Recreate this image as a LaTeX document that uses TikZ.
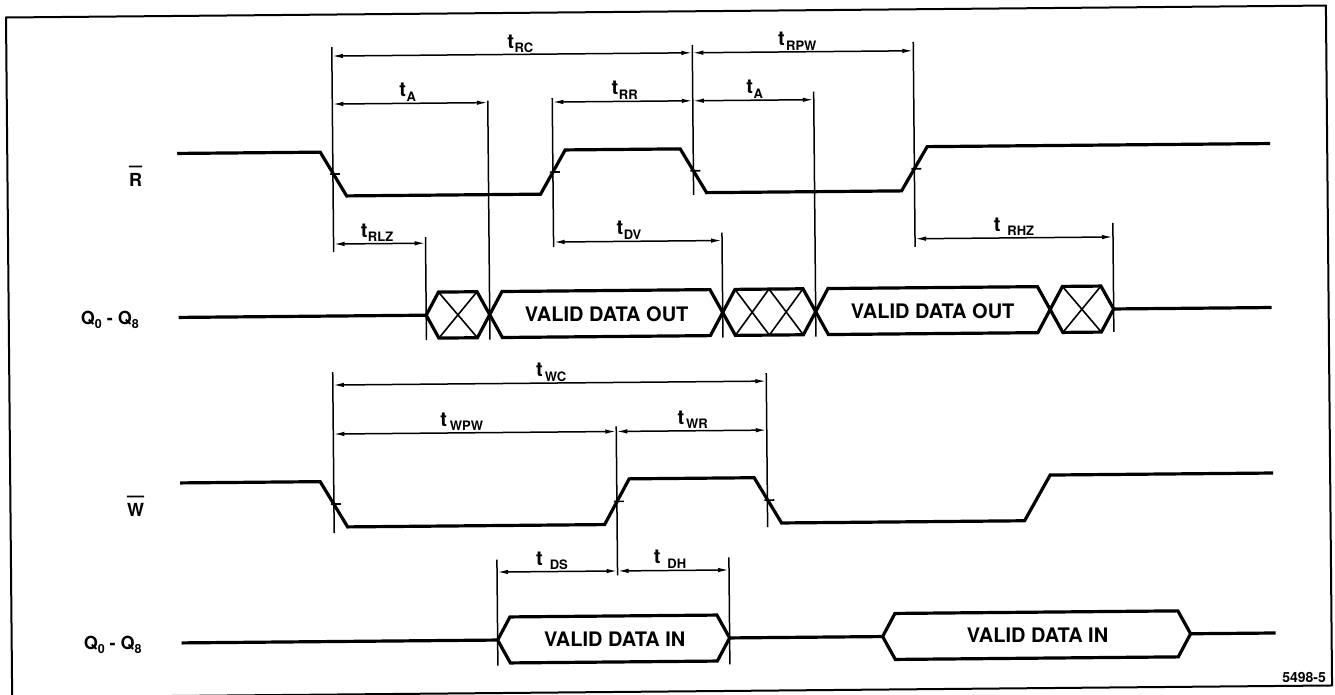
\documentclass[tikz,border=0pt]{standalone}
\usepackage{fontspec}
\setmainfont{TeX Gyre Heros}
\usetikzlibrary{arrows.meta}
\newcommand\tlab[2][0.5pt]{t\kern#1\raisebox{-4.5pt}{\fontsize{13}{13}\selectfont #2}}
\newcommand\qsub[1]{\raisebox{-4pt}{\fontsize{12.5}{12.5}\selectfont #1}}
% hexagonal bus box: left x, right x, centre y
\newcommand\hexbox[3]{\draw[sig] (#1,#3) -- (#1+12.5,#3-23) -- (#2-12.5,#3-23) -- (#2,#3) -- (#2-12.5,#3+23) -- (#1+12.5,#3+23) -- cycle;}
\begin{document}
\begin{tikzpicture}[x=1pt,y=-1pt,
  sig/.style={line width=3.2pt, line join=miter},
  ext/.style={line width=1.5pt},
  dim/.style={line width=1.5pt, {Latex[length=11pt,width=4.5pt]}-{Latex[length=11pt,width=4.5pt]}},
  crossln/.style={line width=1.6pt},
  tickln/.style={line width=1.6pt},
  tl/.style={font=\bfseries\fontsize{20}{20}\selectfont, inner sep=0pt, anchor=base},
  boxtxt/.style={font=\bfseries\fontsize{20}{20}\selectfont, inner sep=0pt},
  rowlab/.style={font=\bfseries\fontsize{18}{18}\selectfont, inner sep=0pt, anchor=base},
  barln/.style={line width=1.6pt}]
\useasboundingbox (0,0) rectangle (1335,695);
\begin{scope}[rotate around={0.52:(668,348)}]
% frame
\draw[line width=2pt] (9,11.5) rectangle (1329,691.5);

% ---------- R bar signal ----------
\draw[sig] (179,149) -- (322,149) -- (348,193) -- (542,193) -- (567,149) -- (682,149) -- (708,193) -- (903,193) -- (929,149) -- (1272,149);
\foreach \x in {334.5,554.5,695,916} \draw[tickln] (\x-3,171) -- (\x+7,171);

% ---------- upper Q bus ----------
\draw[sig] (179,313) -- (426.5,313);
\draw[sig] (1114,313) -- (1272,313);
\hexbox{426.5}{490}{313}
\draw[crossln] (439,290) -- (477.5,336) (477.5,290) -- (439,336);
\hexbox{490}{723}{313}
\hexbox{723}{816}{313}
\draw[crossln] (735.5,290) -- (769.5,336) (769.5,290) -- (735.5,336)
               (769.5,290) -- (803.5,336) (803.5,290) -- (769.5,336);
\hexbox{816}{1050.5}{313}
\hexbox{1050.5}{1114}{313}
\draw[crossln] (1063,290) -- (1101.5,336) (1101.5,290) -- (1063,336);
\node[boxtxt] (vo1) at (607,313.5) {VALID DATA OUT};
\node[boxtxt] (vo2) at (933,313.5) {VALID DATA OUT};

% ---------- R extension lines ----------
\draw[ext] (334.5,44) -- (334.5,249);
\draw[ext] (490,99) -- (490,338);
\draw[ext] (554.5,97) -- (554.5,246);
\draw[ext] (695,45) -- (695,195);
\draw[ext] (816,93) -- (816,338);
\draw[ext] (916,44) -- (916,249);
\draw[ext] (426.5,235) -- (426.5,338);
\draw[ext] (723,233) -- (723,338);
\draw[ext] (1114,227) -- (1114,336);

% ---------- R dimensions ----------
\draw[dim] (334.5,53) -- (695,53);
\draw[dim] (695,53) -- (916,53);
\draw[dim] (334.5,101) -- (490,101);
\draw[dim] (554.5,101) -- (695,101);
\draw[dim] (695,101) -- (816,101);
\draw[dim] (334.5,241) -- (426.5,241);
\draw[dim] (554.5,241) -- (723,241);
\draw[dim] (916,241) -- (1114,241);
\node[tl] (lRC) at (523,47) {\tlab{RC}};
\node[tl] (lRPW) at (800,47) {\tlab[1.5pt]{RPW}};
\node[tl] (lA1) at (410,94.5) {\tlab{A}};
\node[tl] (lRR) at (627,94.5) {\tlab{RR}};
\node[tl] (lA2) at (757,94.5) {\tlab{A}};
\node[tl] (lRLZ) at (378,234.5) {\tlab{RLZ}};
\node[tl] (lDV) at (630,234.5) {\tlab{DV}};
\node[tl] (lRHZ) at (1015,234.5) {\tlab[7pt]{RHZ}};

% ---------- W bar signal ----------
\draw[sig] (179,478.5) -- (319,478.5) -- (346,524) -- (603,524) -- (628,478.5) -- (753,478.5) -- (780,524) -- (1023,524) -- (1049,478.5) -- (1272,478.5);
\foreach \x in {332.5,615.5,766} \draw[tickln] (\x-3,501) -- (\x+7,501);

% ---------- lower Q bus ----------
\draw[sig] (179,638.5) -- (495,638.5);
\draw[sig] (727,638.5) -- (880,638.5);
\draw[sig] (1188,638.5) -- (1273,638.5);
\hexbox{495}{727}{638.5}
\hexbox{880}{1188}{638.5}
\node[boxtxt] (vi1) at (612,639) {VALID DATA IN};
\node[boxtxt] (vi2) at (1035,639) {VALID DATA IN};

% ---------- W extension lines ----------
\draw[ext] (332.5,369) -- (332.5,530);
\draw[ext] (615.5,426) -- (615.5,575);
\draw[ext] (766,374) -- (766,528);
\draw[ext] (495,558) -- (495,664);
\draw[ext] (727,558) -- (727,665);

% ---------- W dimensions ----------
\draw[dim] (332.5,382) -- (766,382);
\draw[dim] (332.5,431) -- (615.5,431);
\draw[dim] (615.5,431) -- (766,431);
\draw[dim] (495,570.5) -- (615.5,570.5);
\draw[dim] (615.5,570.5) -- (727,570.5);
\node[tl] (lWC) at (551,375.5) {\tlab[2pt]{WC}};
\node[tl] (lWPW) at (461,424.5) {\tlab[3pt]{WPW}};
\node[tl] (lWR) at (692,424.5) {\tlab[2pt]{WR}};
\node[tl] (lDS) at (550,564) {\tlab[7pt]{DS}};
\node[tl] (lDH) at (668,564) {\tlab[7pt]{DH}};

% ---------- row labels ----------
\node[rowlab] (Rl) at (137,182) {R};
\draw[barln] ([yshift=7pt]Rl.north west) -- ([yshift=7pt]Rl.north east);
\node[rowlab] (Q1l) at (110,319) {Q\qsub{0} - Q\qsub{8}};
\node[rowlab] (Wl) at (134,512) {W};
\draw[barln] ([yshift=7pt]Wl.north west) -- ([yshift=7pt]Wl.north east);
\node[rowlab] (Q2l) at (110,644) {Q\qsub{0} - Q\qsub{8}};

% figure number
\node[font=\bfseries\fontsize{14}{14}\selectfont, inner sep=0pt, anchor=base east] (fig) at (1323,688) {5498-5};
\end{scope}
\end{tikzpicture}
\end{document}
